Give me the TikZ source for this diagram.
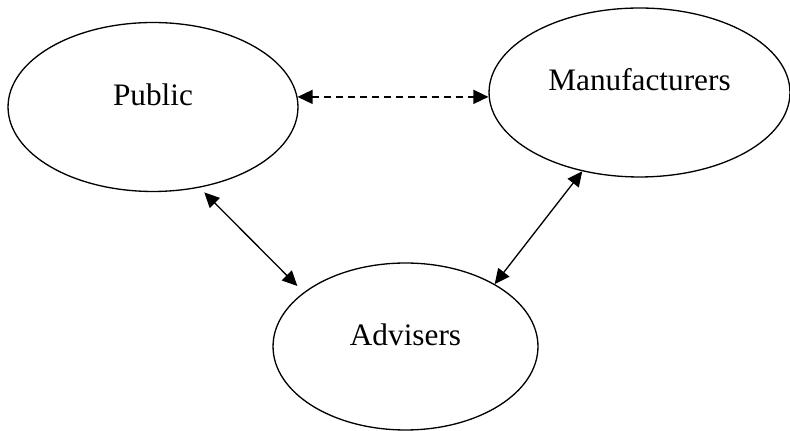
\documentclass[tikz,border=0pt]{standalone}
\usepackage{fontspec}
\setmainfont{Liberation Serif}
\usetikzlibrary{shapes.geometric,arrows.meta}
\begin{document}
\begin{tikzpicture}[
  x=0.02cm, y=-0.02cm,
  party/.style={ellipse, draw, line width=0.75pt, inner sep=0pt, font=\fontsize{17.8}{20}\selectfont, text height=12pt, text depth=13.7pt},
  link/.style={{Triangle[length=8.5pt,width=8pt]}-{Triangle[length=8.5pt,width=8pt]}, line width=0.75pt}
]
\useasboundingbox (0,0) rectangle (790,431);
\node[party, minimum width=5.8cm, minimum height=3.38cm] (public) at (153,107) {Public};
\node[party, minimum width=6.02cm, minimum height=3.38cm] (manuf) at (639.5,92.5) {Manufacturers};
\node[party, minimum width=5.3cm, minimum height=3.34cm] (adv) at (405.5,346.5) {Advisers};

\draw[link, dash pattern=on 4pt off 2.8pt] (public.4.5) -- (public.4.5 -| manuf.west);
\draw[link, shorten <=3.8pt, shorten >=5.1pt] (public.-60.5) -- (adv.152.5);
\draw[link] (manuf.234) -- (adv.35.6);
\end{tikzpicture}
\end{document}
